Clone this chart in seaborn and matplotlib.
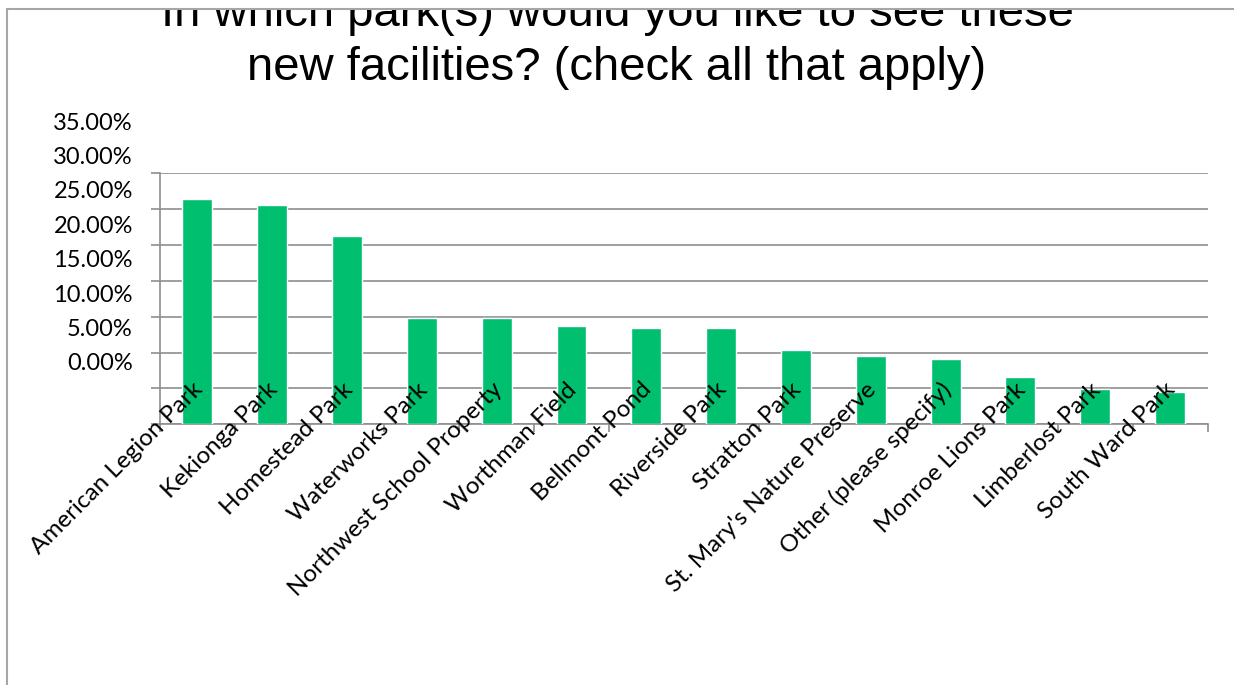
import matplotlib
matplotlib.use("Agg")
import matplotlib.pyplot as plt
import matplotlib.transforms as mtrans
from matplotlib.patches import Rectangle
from matplotlib.lines import Line2D
import seaborn as sns

# survey data (share of respondents, %)
parks = ["American Legion Park", "Kekionga Park", "Homestead Park", "Waterworks Park",
         "Northwest School Property", "Worthman Field", "Bellmont Pond", "Riverside Park",
         "Stratton Park", "St. Mary's Nature Preserve", "Other (please specify)",
         "Monroe Lions Park", "Limberlost Park", "South Ward Park"]
shares = [31.4, 30.6, 26.3, 14.8, 14.8, 13.7, 13.4, 13.4, 10.4, 9.5, 9.1, 6.6, 4.9, 4.5]
y_ticks = [0, 5, 10, 15, 20, 25, 30, 35]
y_tick_labels = ["0.00%", "5.00%", "10.00%", "15.00%", "20.00%", "25.00%", "30.00%", "35.00%"]
title_1 = "In which park(s) would you like to see these"
title_2 = "new facilities? (check all that apply)"

sns.set_style("white")
plt.rcParams["font.family"] = ["Lato", "DejaVu Sans"]
plt.rcParams["text.color"] = "black"
plt.rcParams["xtick.color"] = "black"
plt.rcParams["ytick.color"] = "black"

green = "#00BF6F"
grid_col = "#8E8E8E"

fig = plt.figure(figsize=(12.34, 6.85), dpi=100)
W, H = 1234, 685

def box(l, t, r, b):
    return [l / W, 1 - b / H, (r - l) / W, (b - t) / H]

# main plot area
ax = fig.add_axes(box(160, 173.3, 1207.5, 424.3))
sns.barplot(x=parks, y=shares, color=green, width=0.4, saturation=1, ax=ax, zorder=3)
ax.set_xlim(-0.5, 13.5)
ax.set_ylim(0, 35)
ax.set_yticks(y_ticks)
ax.set_yticklabels([])
ax.yaxis.grid(True, color=grid_col, lw=1.2)
ax.set_axisbelow(True)
ax.set_xlabel("")
ax.set_ylabel("")
for s in ["top", "right"]:
    ax.spines[s].set_visible(False)
for s in ["left", "bottom"]:
    ax.spines[s].set_color(grid_col)
    ax.spines[s].set_linewidth(1.2)
ax.tick_params(axis="y", left=True, length=6.5, width=1.2, color=grid_col)
ax.set_xticks([i - 0.5 for i in range(len(parks) + 1)])
ax.set_xticklabels([])
ax.tick_params(axis="x", bottom=True, length=6, width=1.2, color=grid_col)

# category labels on an overlay so they sit on top of the bars
top = fig.add_axes(box(160, 173.3, 1207.5, 424.3))
top.set_xlim(-0.5, 13.5)
top.set_ylim(0, 35)
top.patch.set_visible(False)
for s in top.spines.values():
    s.set_visible(False)
top.set_yticks([])
top.set_xticks(range(len(parks)))
top.set_xticklabels(parks, rotation=45, ha="right", va="center", rotation_mode="anchor",
                    fontsize=17.5)
top.tick_params(axis="x", length=0, pad=0)
shift = mtrans.ScaledTranslation(2 / 100, 38 / 100, fig.dpi_scale_trans)
for lab in top.get_xticklabels():
    lab.set_transform(lab.get_transform() + shift)

# y tick labels (drawn on their own scale, as in the original)
lab_ax = fig.add_axes(box(160, 121, 1207.5, 362))
lab_ax.set_ylim(0, 35)
lab_ax.set_yticks(y_ticks)
lab_ax.set_yticklabels(y_tick_labels, fontsize=17)
lab_ax.tick_params(axis="y", length=0, pad=19.5)
lab_ax.set_xticks([])
lab_ax.patch.set_visible(False)
for s in lab_ax.spines.values():
    s.set_visible(False)

# title
fig.text(0.5, 1 - 26 / H, title_1, ha="center", va="baseline", fontsize=34,
         family="Liberation Sans", color="black")
fig.text(0.5, 1 - 80 / H, title_2, ha="center", va="baseline", fontsize=34,
         family="Liberation Sans", color="black")

# clipped top strip and frame
fig.add_artist(Rectangle((0, 1 - 9 / H), 1, 9 / H, transform=fig.transFigure,
                         facecolor="white", edgecolor="none", zorder=20))
fig.add_artist(Line2D([7 / W, 1], [1 - 9 / H, 1 - 9 / H], transform=fig.transFigure,
                      color="#A6A6A6", lw=1.5, zorder=21))
fig.add_artist(Line2D([7 / W, 7 / W], [0, 1 - 9 / H], transform=fig.transFigure,
                      color="#A6A6A6", lw=1.5, zorder=21))

fig.savefig("out.png", dpi=100)
